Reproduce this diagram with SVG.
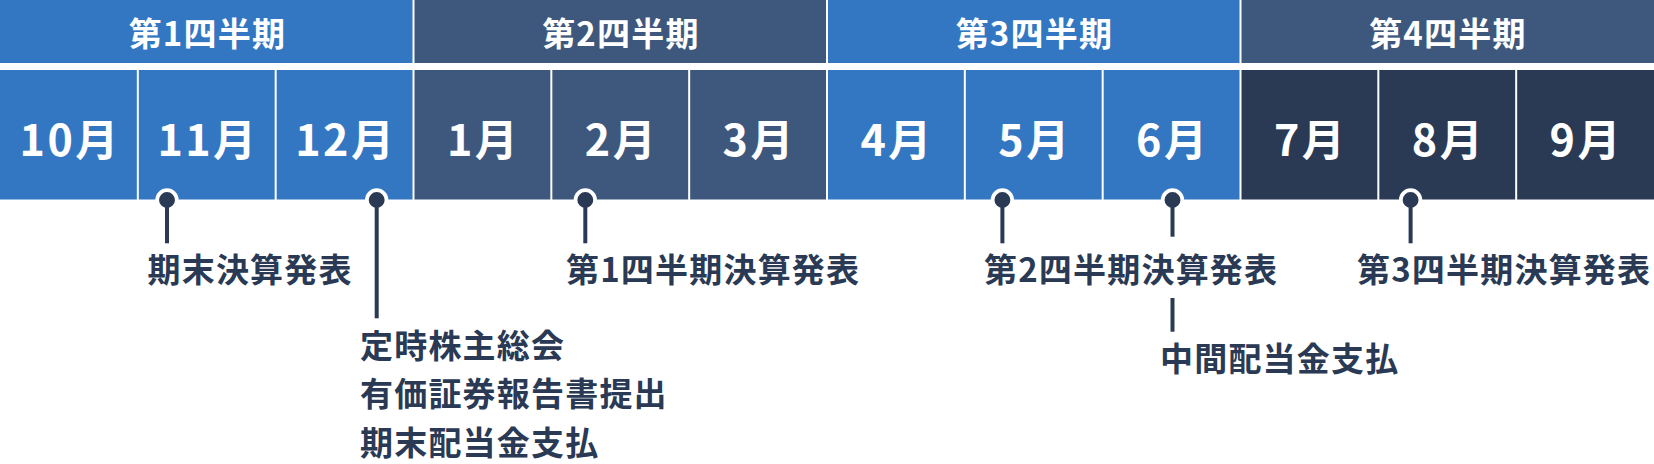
<svg xmlns="http://www.w3.org/2000/svg" width="1654" height="464" viewBox="0 0 1654 464">
  <style>
    .blue { fill: #3377C2; }
    .slate { fill: #3E587D; }
    .navy { fill: #2A3A55; }
    .sep { stroke: #FFFFFF; stroke-width: 2; }
    .qt { font-family: "Noto Sans CJK JP", "Noto Sans", sans-serif; font-weight: 700; font-size: 33px; fill: #FFFFFF; letter-spacing: 1.2px; text-anchor: middle; }
    .mt { font-family: "Noto Sans CJK JP", "Noto Sans", sans-serif; font-weight: 700; font-size: 43px; fill: #FFFFFF; letter-spacing: 2.5px; text-anchor: middle; }
    .lb { font-family: "Noto Sans CJK JP", "Noto Sans", sans-serif; font-weight: 700; font-size: 33px; fill: #2A3A55; letter-spacing: 1.2px; }
    .ln { stroke: #2A3A55; stroke-width: 4; fill: none; }
    .dot { fill: #2A3A55; stroke: #FFFFFF; stroke-width: 3.7; }
  </style>
  <rect x="0" y="0" width="1654" height="464" fill="#FFFFFF"/>

  <g id="quarters">
    <g id="q1"><rect class="blue" x="0" y="0" width="413.5" height="63"/><text class="qt" x="207.4" y="45.5">第1四半期</text></g>
    <g id="q2"><rect class="slate" x="413.5" y="0" width="413.5" height="63"/><text class="qt" x="620.9" y="45.5">第2四半期</text></g>
    <g id="q3"><rect class="blue" x="827" y="0" width="413.5" height="63"/><text class="qt" x="1034.4" y="45.5">第3四半期</text></g>
    <g id="q4"><rect class="slate" x="1240.5" y="0" width="413.5" height="63"/><text class="qt" x="1447.9" y="45.5">第4四半期</text></g>
    <line class="sep" x1="413.5" y1="0" x2="413.5" y2="63"/>
    <line class="sep" x1="827" y1="0" x2="827" y2="63"/>
    <line class="sep" x1="1240.5" y1="0" x2="1240.5" y2="63"/>
  </g>

  <g id="months">
    <g id="m10"><rect class="blue" x="0" y="70" width="137.83" height="129.5"/><text class="mt" x="70.2" y="156">10月</text></g>
    <g id="m11"><rect class="blue" x="137.83" y="70" width="137.83" height="129.5"/><text class="mt" x="208" y="156">11月</text></g>
    <g id="m12"><rect class="blue" x="275.67" y="70" width="137.83" height="129.5"/><text class="mt" x="345.8" y="156">12月</text></g>
    <g id="m1"><rect class="slate" x="413.5" y="70" width="137.83" height="129.5"/><text class="mt" x="483.7" y="156">1月</text></g>
    <g id="m2"><rect class="slate" x="551.33" y="70" width="137.83" height="129.5"/><text class="mt" x="621.5" y="156">2月</text></g>
    <g id="m3"><rect class="slate" x="689.17" y="70" width="137.83" height="129.5"/><text class="mt" x="759.3" y="156">3月</text></g>
    <g id="m4"><rect class="blue" x="827" y="70" width="137.83" height="129.5"/><text class="mt" x="897.2" y="156">4月</text></g>
    <g id="m5"><rect class="blue" x="964.83" y="70" width="137.83" height="129.5"/><text class="mt" x="1035" y="156">5月</text></g>
    <g id="m6"><rect class="blue" x="1102.67" y="70" width="137.83" height="129.5"/><text class="mt" x="1172.8" y="156">6月</text></g>
    <g id="m7"><rect class="navy" x="1240.5" y="70" width="137.83" height="129.5"/><text class="mt" x="1310.7" y="156">7月</text></g>
    <g id="m8"><rect class="navy" x="1378.33" y="70" width="137.83" height="129.5"/><text class="mt" x="1448.5" y="156">8月</text></g>
    <g id="m9"><rect class="navy" x="1516.17" y="70" width="137.83" height="129.5"/><text class="mt" x="1586.3" y="156">9月</text></g>
    <line class="sep" x1="137.83" y1="70" x2="137.83" y2="200"/>
    <line class="sep" x1="275.67" y1="70" x2="275.67" y2="200"/>
    <line class="sep" x1="413.5" y1="70" x2="413.5" y2="200"/>
    <line class="sep" x1="551.33" y1="70" x2="551.33" y2="200"/>
    <line class="sep" x1="689.17" y1="70" x2="689.17" y2="200"/>
    <line class="sep" x1="827" y1="70" x2="827" y2="200"/>
    <line class="sep" x1="964.83" y1="70" x2="964.83" y2="200"/>
    <line class="sep" x1="1102.67" y1="70" x2="1102.67" y2="200"/>
    <line class="sep" x1="1240.5" y1="70" x2="1240.5" y2="200"/>
    <line class="sep" x1="1378.33" y1="70" x2="1378.33" y2="200"/>
    <line class="sep" x1="1516.17" y1="70" x2="1516.17" y2="200"/>
  </g>

  <g id="connectors">
    <circle class="dot" cx="167" cy="200" r="9.8"/>
    <circle class="dot" cx="376.7" cy="200" r="9.8"/>
    <circle class="dot" cx="585.3" cy="200" r="9.8"/>
    <circle class="dot" cx="1002.4" cy="200" r="9.8"/>
    <circle class="dot" cx="1172.5" cy="200" r="9.8"/>
    <circle class="dot" cx="1410.6" cy="200" r="9.8"/>
    <line class="ln" x1="167" y1="200" x2="167" y2="243.3"/>
    <line class="ln" x1="376.7" y1="200" x2="376.7" y2="318.3"/>
    <line class="ln" x1="585.3" y1="200" x2="585.3" y2="243.3"/>
    <line class="ln" x1="1002.4" y1="200" x2="1002.4" y2="243.3"/>
    <line class="ln" x1="1172.5" y1="200" x2="1172.5" y2="236.7"/>
    <line class="ln" x1="1172.5" y1="298" x2="1172.5" y2="331.7"/>
    <line class="ln" x1="1410.6" y1="200" x2="1410.6" y2="243.3"/>
  </g>

  <g id="label-nov"><text class="lb" x="147.5" y="282">期末決算発表</text></g>
  <g id="label-dec">
    <text class="lb" x="360" y="358">定時株主総会</text>
    <text class="lb" x="360" y="406">有価証券報告書提出</text>
    <text class="lb" x="360" y="454.5">期末配当金支払</text>
  </g>
  <g id="label-feb"><text class="lb" x="566" y="282">第1四半期決算発表</text></g>
  <g id="label-may"><text class="lb" x="984" y="282">第2四半期決算発表</text></g>
  <g id="label-jun"><text class="lb" x="1160" y="371">中間配当金支払</text></g>
  <g id="label-aug"><text class="lb" x="1357" y="282">第3四半期決算発表</text></g>
</svg>
